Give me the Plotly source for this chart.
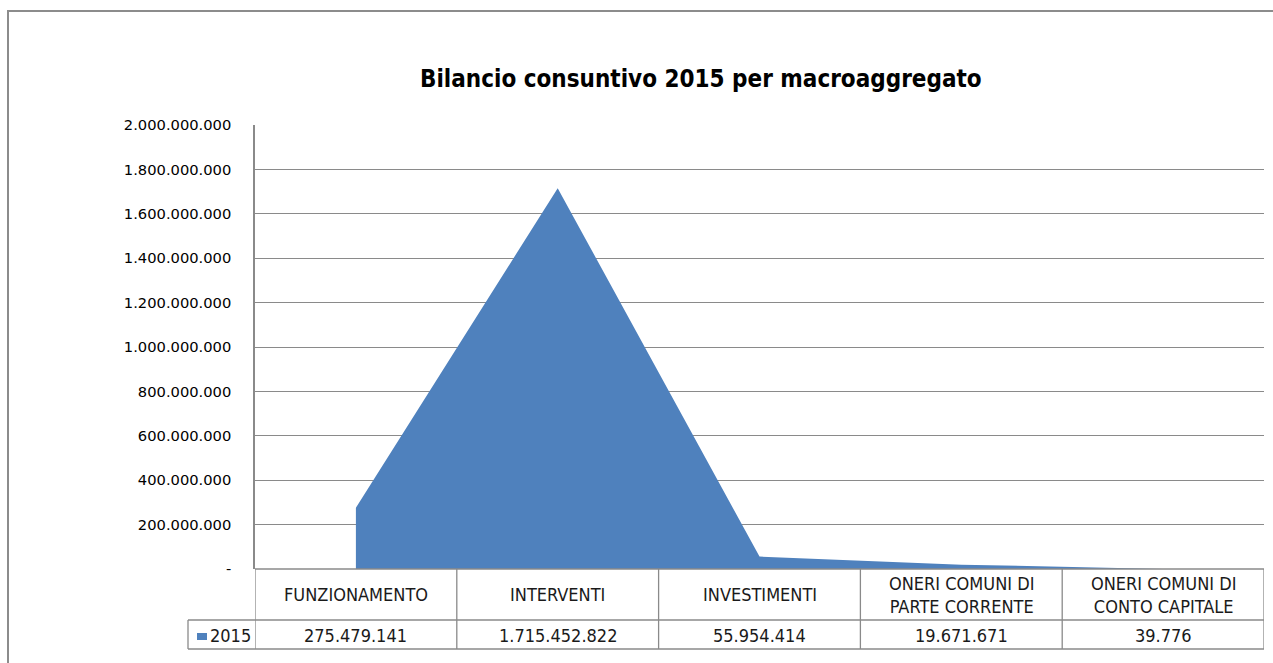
import plotly.graph_objects as go

categories = ["FUNZIONAMENTO", "INTERVENTI", "INVESTIMENTI",
              "ONERI COMUNI DI<br>PARTE CORRENTE", "ONERI COMUNI DI<br>CONTO CAPITALE"]
values_2015 = [275479141, 1715452822, 55954414, 19671671, 39776]
series_name = "2015"
y_tick_values = [0, 200000000, 400000000, 600000000, 800000000, 1000000000,
                 1200000000, 1400000000, 1600000000, 1800000000, 2000000000]
title_text = "Bilancio consuntivo 2015 per macroaggregato"


def fmt_it(v):
    if v == 0:
        return "-"
    return f"{v:,}".replace(",", ".")


W, H = 1273, 663
L, R, T, B = 255, 9, 125, 94
PW, PH = W - L - R, H - T - B


def px_x(px):
    return (px - L) / PW


def px_y(py):
    return (H - B - py) / PH


BLUE = "#4F81BD"
GRID = "#8a8a8a"
NARROW = "Liberation Sans Narrow, Arial Narrow, DejaVu Sans Condensed, sans-serif"

x_idx = list(range(len(categories)))

fig = go.Figure()
fig.add_trace(go.Scatter(
    x=x_idx, y=values_2015, mode="lines", fill="tozeroy",
    fillcolor=BLUE, line=dict(width=0, color=BLUE), name=series_name,
    showlegend=False, hoverinfo="skip"))

shapes = []
annotations = []

# outer chart frame
shapes.append(dict(type="rect", xref="paper", yref="paper",
                   x0=px_x(8), x1=px_x(W + 40), y0=px_y(H + 40), y1=px_y(11),
                   line=dict(color="#8c8c8c", width=2), fillcolor="rgba(0,0,0,0)", layer="below"))

# data table lines
y_top, y_mid, y_bot = px_y(569), px_y(620), px_y(649)
n = len(categories)
for k in range(n + 1):
    shapes.append(dict(type="line", xref="x", yref="paper", x0=k - 0.5, x1=k - 0.5,
                       y0=y_bot, y1=y_top, line=dict(color=GRID, width=1.3)))
shapes.append(dict(type="line", xref="x", yref="paper", x0=-0.5, x1=n - 0.5,
                   y0=y_top, y1=y_top, line=dict(color=GRID, width=1.3)))
for yy in (y_mid, y_bot):
    shapes.append(dict(type="line", xref="paper", yref="paper", x0=px_x(188), x1=1,
                       y0=yy, y1=yy, line=dict(color=GRID, width=1.3)))
shapes.append(dict(type="line", xref="paper", yref="paper", x0=px_x(188), x1=px_x(188),
                   y0=y_bot, y1=y_mid, line=dict(color=GRID, width=1.3)))
# legend key
shapes.append(dict(type="rect", xref="paper", yref="paper",
                   x0=px_x(197), x1=px_x(207), y0=px_y(640), y1=px_y(633),
                   line=dict(width=0), fillcolor=BLUE))

for i, cat in enumerate(categories):
    annotations.append(dict(x=i, y=px_y(594.5), xref="x", yref="paper", text=cat,
                            showarrow=False, xanchor="center", yanchor="middle",
                            font=dict(family=NARROW, size=18, color="#1a1a1a")))
    annotations.append(dict(x=i, y=px_y(635), xref="x", yref="paper",
                            text=fmt_it(values_2015[i]),
                            showarrow=False, xanchor="center", yanchor="middle",
                            font=dict(family=NARROW, size=18, color="#1a1a1a")))
annotations.append(dict(x=px_x(230), y=px_y(635), xref="paper", yref="paper",
                        text=series_name, showarrow=False, xanchor="center", yanchor="middle",
                        font=dict(family=NARROW, size=18, color="#1a1a1a")))
annotations.append(dict(x=px_x(701), y=px_y(79), xref="paper", yref="paper",
                        text="<b>" + title_text + "</b>", showarrow=False,
                        xanchor="center", yanchor="middle",
                        font=dict(family=NARROW, size=24, color="#000000")))

fig.update_layout(
    width=W, height=H,
    margin=dict(l=L, r=R, t=T, b=B, pad=0),
    paper_bgcolor="white", plot_bgcolor="white",
    showlegend=False,
    shapes=shapes, annotations=annotations,
    xaxis=dict(type="linear", range=[-0.5, n - 0.5], showgrid=False, zeroline=False,
               showticklabels=False, showline=False, ticks="", fixedrange=True),
    yaxis=dict(range=[0, 2000000000], tickvals=y_tick_values,
               ticktext=[fmt_it(v) for v in y_tick_values],
               showgrid=True, gridcolor=GRID, gridwidth=1.3, zeroline=False,
               showline=True, linecolor=GRID, linewidth=1.5,
               ticks="outside", ticklen=19, tickcolor="rgba(0,0,0,0)",
               tickfont=dict(family="DejaVu Sans, Verdana, sans-serif", size=14.7, color="#000000"),
               fixedrange=True),
)

fig.write_html("out.html", config={"displayModeBar": False},
               post_script="document.body.style.margin='0';")
